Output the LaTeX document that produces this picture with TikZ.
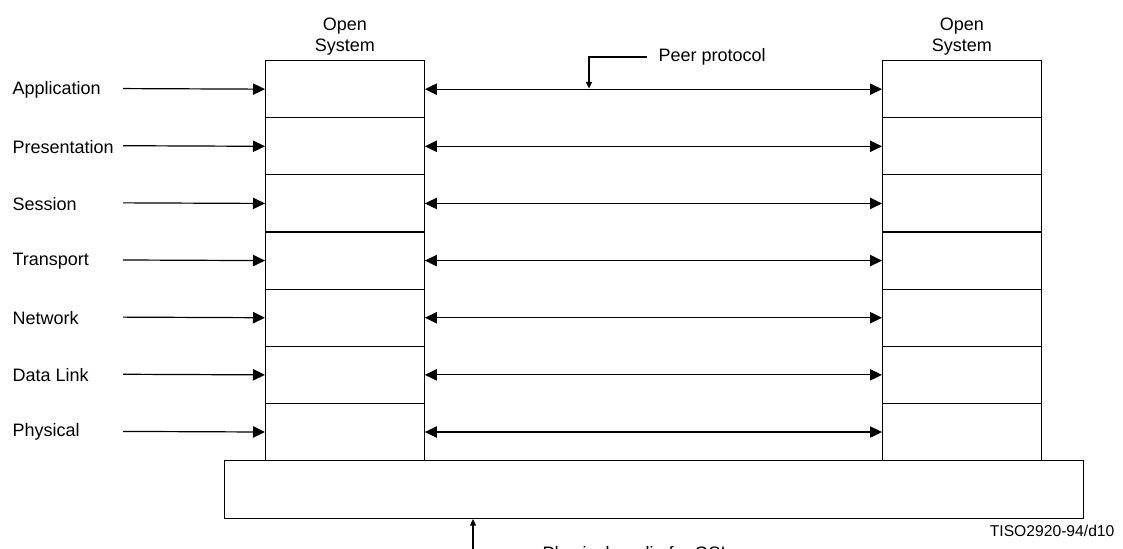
\documentclass[tikz,border=0pt]{standalone}
\usepackage{fontspec}
\setmainfont{Liberation Sans}
\usetikzlibrary{positioning}
\usetikzlibrary{arrows.meta}
\newcommand{\layerfont}{\fontsize{13.5}{15.5}\selectfont}
\newcommand{\figidfont}{\fontsize{11.75}{14}\selectfont}
\newlength\rowheight
\setlength{\rowheight}{42.86pt}

\begin{document}
\begin{tikzpicture}[
    x=0.75pt, y=-0.75pt,
    line width=0.9pt,
    font=\layerfont,
    >={Triangle[length=9pt, width=8.5pt]},
    layerbox/.style={
      draw, rectangle, inner sep=0pt, anchor=north west,
      minimum width=119pt, minimum height=\rowheight
    },
    layername/.style={anchor=west, inner sep=0pt},
    smalltip/.style={-{Triangle[length=5pt, width=4.5pt]}}
]
  \clip (0,0) rectangle (1123,549);

  % the seven layers of both open systems
  \foreach \name [count=\i from 0] in {Application,Presentation,Session,Transport,Network,Data Link,Physical} {
    \node[layerbox] (left\i)  at (265, {60+57.14*\i}) {};
    \node[layerbox] (right\i) at (882, {60+57.14*\i}) {};
    \node[layername] (name\i) at (12, {89.5+57.14*\i}) {\name};
    \coordinate (start\i) at (123, {88.57+57.14*\i});
    \draw[->] (start\i) -- (left\i.west);
    \draw[<->] (left\i.east) -- (right\i.west);
  }

  \node (sysleft) [above=3pt of left0.north, align=center, inner sep=0pt]
  {Open\\System};
  \node (sysright) [above=3pt of right0.north, align=center, inner sep=0pt]
  {Open\\System};

  % physical media under both stacks
  \node (media) [draw, anchor=north west, inner sep=0pt,
    minimum width=644.25pt, minimum height=43.5pt] at (224, 460) {};

  \node[layername] (peer) at (658, 57) {Peer protocol};
  \coordinate (peerhit) at (589, 88.57);
  \draw[smalltip, shorten <=8pt] (peer.west) -| (peerhit);

  \node[layername] (medianame) at (542, 555) {Physical media for OSI};
  \coordinate (mediahit) at (473, 519);
  \draw[smalltip, shorten <=8pt] (medianame.west) -| (mediahit);

  \node (figid) [anchor=east, inner sep=0pt, font=\figidfont] at (1115, 531)
  {TISO2920-94/d10};
\end{tikzpicture}
\end{document}
